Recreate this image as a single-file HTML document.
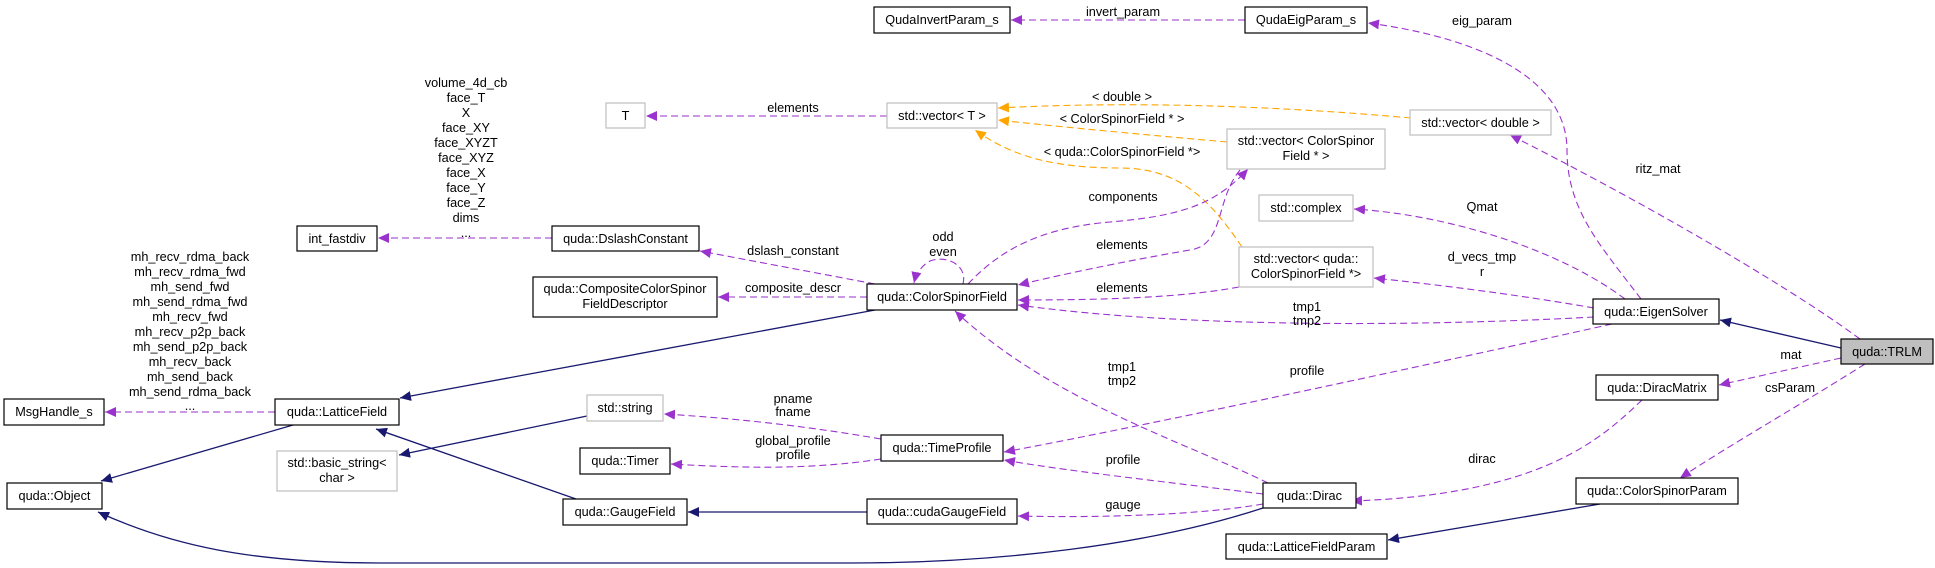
<!DOCTYPE html>
<html><head><meta charset="utf-8"><style>
html,body{margin:0;padding:0;background:#fff;}
svg{display:block;}
text{font-family:"Liberation Sans",Arial,sans-serif;font-size:12.7px;fill:#000;}
.n{fill:#fff;stroke:#000;stroke-width:1.2;}
.g{fill:#fff;stroke:#bfbfbf;stroke-width:1.2;}
.p{fill:none;stroke:#9a32cd;stroke-width:1.1;stroke-dasharray:7,4;}
.o{fill:none;stroke:#ffa500;stroke-width:1.1;stroke-dasharray:7,4;}
.b{fill:none;stroke:#191970;stroke-width:1.3;}
</style></head><body>
<svg width="1935" height="568" viewBox="0 0 1935 568" xmlns="http://www.w3.org/2000/svg">
<defs>
<marker id="mp" markerUnits="userSpaceOnUse" markerWidth="12" markerHeight="10" refX="11" refY="5" orient="auto"><path d="M0,0 L11,5 L0,10 z" fill="#9a32cd"/></marker>
<marker id="mo" markerUnits="userSpaceOnUse" markerWidth="12" markerHeight="10" refX="11" refY="5" orient="auto"><path d="M0,0 L11,5 L0,10 z" fill="#ffa500"/></marker>
<marker id="mb" markerUnits="userSpaceOnUse" markerWidth="12" markerHeight="10" refX="11" refY="5" orient="auto"><path d="M0,0 L11,5 L0,10 z" fill="#191970"/></marker>
</defs>

<!-- solid inheritance edges -->
<path class="b" d="M875,310 L400,398" marker-end="url(#mb)"/>
<path class="b" d="M293,425 L101,481" marker-end="url(#mb)"/>
<path class="b" d="M576,499 L376,429" marker-end="url(#mb)"/>
<path class="b" d="M587,416 L399,455" marker-end="url(#mb)"/>
<path class="b" d="M867,512 L688,512" marker-end="url(#mb)"/>
<path class="b" d="M1263,508 C1150,545 1000,563 850,563 L380,563 C250,563 170,545 98,512" marker-end="url(#mb)"/>
<path class="b" d="M1841,348 L1720,320" marker-end="url(#mb)"/>
<path class="b" d="M1600,504 L1388,540" marker-end="url(#mb)"/>

<!-- orange template edges -->
<path class="o" d="M1411,118 C1300,108 1150,100 998,108" marker-end="url(#mo)"/>
<path class="o" d="M1227,142 C1150,135 1070,128 998,120" marker-end="url(#mo)"/>
<path class="o" d="M1242,247 C1210,200 1180,168 1120,168 C1050,168 1010,155 975,130" marker-end="url(#mo)"/>

<!-- purple dashed edges -->
<path class="p" d="M1245,20 L1011,20" marker-end="url(#mp)"/>
<path class="p" d="M1641,299 C1600,245 1567,210 1567,150 C1567,70 1460,35 1368,23" marker-end="url(#mp)"/>
<path class="p" d="M887,116 L646,116" marker-end="url(#mp)"/>
<path class="p" d="M1860,339 C1780,280 1620,190 1510,135" marker-end="url(#mp)"/>
<path class="p" d="M1625,299 C1560,250 1450,215 1354,209" marker-end="url(#mp)"/>
<path class="p" d="M1594,308 C1520,295 1440,285 1374,278" marker-end="url(#mp)"/>
<path class="p" d="M1594,317 C1450,325 1200,330 1018,305" marker-end="url(#mp)"/>
<path class="p" d="M1612,324 C1450,360 1150,425 1004,452" marker-end="url(#mp)"/>
<path class="p" d="M1841,358 L1719,385" marker-end="url(#mp)"/>
<path class="p" d="M1865,364 C1800,405 1730,445 1680,478" marker-end="url(#mp)"/>
<path class="p" d="M1642,400 C1600,440 1540,495 1351,501" marker-end="url(#mp)"/>
<path class="p" d="M968,284 C1000,250 1040,228 1110,222 C1180,216 1215,205 1248,169" marker-end="url(#mp)"/>
<path class="p" d="M1240,170 C1215,200 1225,245 1190,250 C1120,262 1060,275 1018,285" marker-end="url(#mp)"/>
<path class="p" d="M1239,287 C1180,298 1100,300 1018,300" marker-end="url(#mp)"/>
<path class="p" d="M963,284 C968,264 945,255 930,261 C921,266 916,274 914,283" marker-end="url(#mp)"/>
<path class="p" d="M875,284 L700,251" marker-end="url(#mp)"/>
<path class="p" d="M867,297 L718,297" marker-end="url(#mp)"/>
<path class="p" d="M552,238 L378,238" marker-end="url(#mp)"/>
<path class="p" d="M275,412 L105,412" marker-end="url(#mp)"/>
<path class="p" d="M881,439 C800,425 730,418 664,414" marker-end="url(#mp)"/>
<path class="p" d="M881,459 C810,470 740,468 671,464" marker-end="url(#mp)"/>
<path class="p" d="M1263,494 C1150,480 1060,470 1004,460" marker-end="url(#mp)"/>
<path class="p" d="M1263,504 C1200,515 1100,518 1018,516" marker-end="url(#mp)"/>
<path class="p" d="M1268,483 C1180,440 1050,400 955,311" marker-end="url(#mp)"/>

<!-- edge labels -->
<g text-anchor="middle">
<text x="1123" y="16">invert_param</text>
<text x="1482" y="25">eig_param</text>
<text x="793" y="112">elements</text>
<text x="1122" y="101">&lt; double &gt;</text>
<text x="1122" y="123">&lt; ColorSpinorField * &gt;</text>
<text x="1122" y="156">&lt; quda::ColorSpinorField *&gt;</text>
<text x="1658" y="173">ritz_mat</text>
<text x="1482" y="211">Qmat</text>
<text x="1123" y="201">components</text>
<text x="1482" y="261">d_vecs_tmp</text>
<text x="1482" y="276">r</text>
<text x="943" y="241">odd</text>
<text x="943" y="256">even</text>
<text x="793" y="255">dslash_constant</text>
<text x="1122" y="249">elements</text>
<text x="1122" y="292">elements</text>
<text x="793" y="292">composite_descr</text>
<text x="1307" y="311">tmp1</text>
<text x="1307" y="325">tmp2</text>
<text x="1791" y="359">mat</text>
<text x="1790" y="392">csParam</text>
<text x="1307" y="375">profile</text>
<text x="1122" y="371">tmp1</text>
<text x="1122" y="385">tmp2</text>
<text x="793" y="403">pname</text>
<text x="793" y="416">fname</text>
<text x="793" y="445">global_profile</text>
<text x="793" y="459">profile</text>
<text x="1123" y="464">profile</text>
<text x="1123" y="509">gauge</text>
<text x="1482" y="463">dirac</text>
<text x="466" y="87">volume_4d_cb</text>
<text x="466" y="102">face_T</text>
<text x="466" y="117">X</text>
<text x="466" y="132">face_XY</text>
<text x="466" y="147">face_XYZT</text>
<text x="466" y="162">face_XYZ</text>
<text x="466" y="177">face_X</text>
<text x="466" y="192">face_Y</text>
<text x="466" y="207">face_Z</text>
<text x="466" y="222">dims</text>
<text x="466" y="237">...</text>
<text x="190" y="261">mh_recv_rdma_back</text>
<text x="190" y="276">mh_recv_rdma_fwd</text>
<text x="190" y="291">mh_send_fwd</text>
<text x="190" y="306">mh_send_rdma_fwd</text>
<text x="190" y="321">mh_recv_fwd</text>
<text x="190" y="336">mh_recv_p2p_back</text>
<text x="190" y="351">mh_send_p2p_back</text>
<text x="190" y="366">mh_recv_back</text>
<text x="190" y="381">mh_send_back</text>
<text x="190" y="396">mh_send_rdma_back</text>
<text x="190" y="410">...</text>
</g>

<!-- nodes -->
<g text-anchor="middle">
<rect class="n" x="874" y="7" width="136" height="26"/><text x="942" y="24">QudaInvertParam_s</text>
<rect class="n" x="1245" y="7" width="122" height="26"/><text x="1306" y="24">QudaEigParam_s</text>
<rect class="g" x="606" y="103" width="39" height="25"/><text x="625.5" y="120">T</text>
<rect class="g" x="887" y="103" width="110" height="25"/><text x="942" y="120">std::vector&lt; T &gt;</text>
<rect class="g" x="1410" y="110" width="141" height="25"/><text x="1480.5" y="127">std::vector&lt; double &gt;</text>
<rect class="g" x="1227" y="129" width="158" height="40"/><text x="1306" y="145">std::vector&lt; ColorSpinor</text><text x="1306" y="160">Field * &gt;</text>
<rect class="g" x="1259" y="195" width="94" height="26"/><text x="1306" y="212">std::complex</text>
<rect class="g" x="1239" y="247" width="134" height="40"/><text x="1306" y="263">std::vector&lt; quda::</text><text x="1306" y="278">ColorSpinorField *&gt;</text>
<rect class="n" x="297" y="226" width="80" height="25"/><text x="337" y="243">int_fastdiv</text>
<rect class="n" x="552" y="226" width="147" height="25"/><text x="625.5" y="243">quda::DslashConstant</text>
<rect class="n" x="533" y="277" width="184" height="40"/><text x="625" y="293">quda::CompositeColorSpinor</text><text x="625" y="308">FieldDescriptor</text>
<rect class="n" x="867" y="284" width="150" height="26"/><text x="942" y="301">quda::ColorSpinorField</text>
<rect class="n" x="1593" y="299" width="126" height="25"/><text x="1656" y="316">quda::EigenSolver</text>
<rect x="1841" y="339" width="92" height="25" fill="#bfbfbf" stroke="#000" stroke-width="1.2"/><text x="1887" y="356">quda::TRLM</text>
<rect class="n" x="4" y="399" width="100" height="26"/><text x="54" y="416">MsgHandle_s</text>
<rect class="n" x="275" y="399" width="124" height="26"/><text x="337" y="416">quda::LatticeField</text>
<rect class="g" x="587" y="395" width="76" height="26"/><text x="625" y="412">std::string</text>
<rect class="g" x="277" y="451" width="120" height="40"/><text x="337" y="467">std::basic_string&lt;</text><text x="337" y="482">char &gt;</text>
<rect class="n" x="881" y="435" width="122" height="26"/><text x="942" y="452">quda::TimeProfile</text>
<rect class="n" x="580" y="448" width="90" height="26"/><text x="625" y="465">quda::Timer</text>
<rect class="n" x="1596" y="375" width="122" height="25"/><text x="1657" y="392">quda::DiracMatrix</text>
<rect class="n" x="7" y="483" width="95" height="26"/><text x="54.5" y="500">quda::Object</text>
<rect class="n" x="563" y="499" width="124" height="26"/><text x="625" y="516">quda::GaugeField</text>
<rect class="n" x="867" y="499" width="150" height="25"/><text x="942" y="516">quda::cudaGaugeField</text>
<rect class="n" x="1263" y="483" width="93" height="25"/><text x="1309.5" y="500">quda::Dirac</text>
<rect class="n" x="1576" y="478" width="162" height="26"/><text x="1657" y="495">quda::ColorSpinorParam</text>
<rect class="n" x="1226" y="534" width="161" height="25"/><text x="1306.5" y="551">quda::LatticeFieldParam</text>
</g>
</svg>
</body></html>
